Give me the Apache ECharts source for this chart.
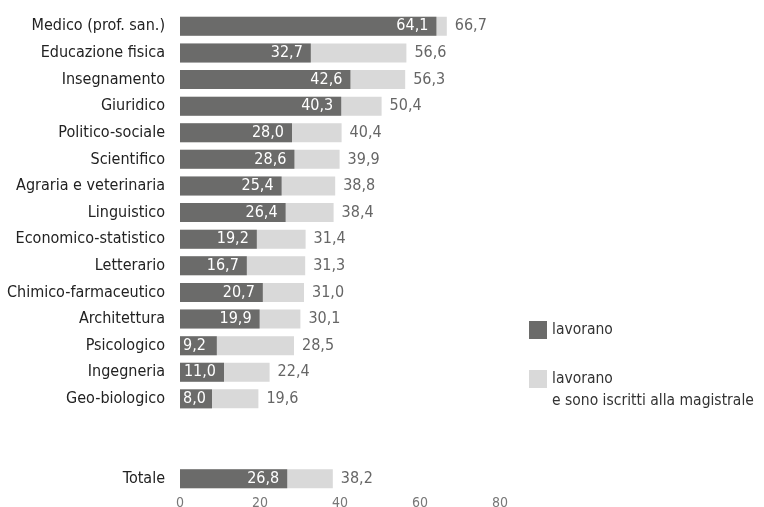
<!DOCTYPE html>
<html><head><meta charset="utf-8">
<script src="https://cdn.jsdelivr.net/npm/echarts@6/dist/echarts.min.js"></script>
<style>html,body{margin:0;padding:0;background:#fff}#c{width:764px;height:507px}</style>
</head><body><div id="c"></div>
<script>
const categories = ['Medico (prof. san.)','Educazione fisica','Insegnamento','Giuridico','Politico-sociale','Scientifico','Agraria e veterinaria','Linguistico','Economico-statistico','Letterario','Chimico-farmaceutico','Architettura','Psicologico','Ingegneria','Geo-biologico','','','Totale'];
const lavorano = [64.1,32.7,42.6,40.3,28.0,28.6,25.4,26.4,19.2,16.7,20.7,19.9,9.2,11.0,8.0,null,null,26.8];
const lavoranoIscritti = [66.7,56.6,56.3,50.4,40.4,39.9,38.8,38.4,31.4,31.3,31.0,30.1,28.5,22.4,19.6,null,null,38.2];
const xTicks = [0,20,40,60,80];
const seriesNames = ['lavorano', 'lavorano e sono iscritti alla magistrale'];

const FONT = '"DejaVu Sans Condensed","Liberation Sans Narrow",sans-serif';
const DARK = '#6b6b6a', LIGHT = '#d9d9d9';
const fmt = p => p.value == null ? '' : Number(p.value).toFixed(1).replace('.', ',');
const darkData = lavorano.map(v => (v != null && v < 10)
  ? {value: v, label: {position: 'insideLeft', distance: 3}}
  : v);
const legendBase = {
  orient: 'vertical', left: 524, itemWidth: 18, itemHeight: 18, itemGap: 6, icon: 'rect',
  textStyle: {fontFamily: FONT, fontSize: 15.5, color: '#333', lineHeight: 22}
};
const chart = echarts.init(document.getElementById('c'));
chart.setOption({
  animation: false,
  textStyle: {fontFamily: FONT},
  grid: {left: 180, right: 264, top: 13, bottom: 15, containLabel: false, outerBoundsMode: 'none'},
  legend: [
    Object.assign({}, legendBase, {top: 314, data: [seriesNames[0]]}),
    Object.assign({}, legendBase, {top: 341, data: [seriesNames[1]],
      formatter: () => '\u00a0\nlavorano\ne sono iscritti alla magistrale'})
  ],
  xAxis: {
    type: 'value', min: 0, max: 80, interval: 20,
    axisLine: {show: false}, axisTick: {show: false}, splitLine: {show: false},
    axisLabel: {color: '#777', fontSize: 14, margin: 4, fontFamily: FONT,
      formatter: v => xTicks.includes(v) ? String(v) : ''}
  },
  yAxis: {
    type: 'category', inverse: true, data: categories,
    axisLine: {show: false}, axisTick: {show: false},
    axisLabel: {color: '#222', fontSize: 16, margin: 15, fontFamily: FONT}
  },
  series: [
    {
      name: seriesNames[1], type: 'bar', data: lavoranoIscritti,
      barWidth: 19, itemStyle: {color: LIGHT}, z: 1,
      label: {show: true, position: 'right', distance: 8, color: '#666', fontSize: 16, fontFamily: FONT, formatter: fmt}
    },
    {
      name: seriesNames[0], type: 'bar', data: darkData, barGap: '-100%',
      barWidth: 19, itemStyle: {color: DARK}, z: 2,
      label: {show: true, position: 'insideRight', distance: 8, color: '#fff', fontSize: 16, fontFamily: FONT, formatter: fmt}
    }
  ]
});
</script></body></html>
